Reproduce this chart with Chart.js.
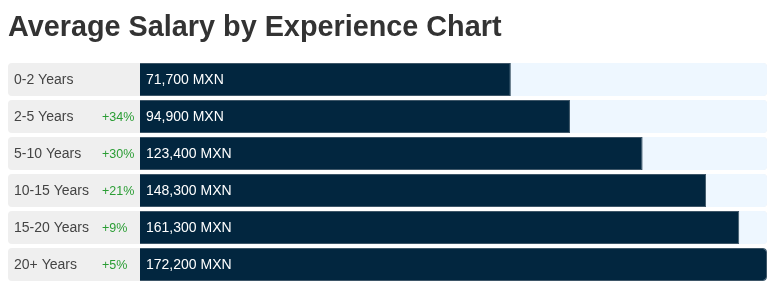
<!DOCTYPE html>
<html><head><meta charset="utf-8">
<script src="https://cdn.jsdelivr.net/npm/chart.js@4.4.1/dist/chart.umd.min.js"></script>
<style>
html,body{margin:0;padding:0;background:#fff;width:768px;height:288px;overflow:hidden}
#wrap{position:absolute;left:0;top:0;width:768px;height:288px}
#title{position:absolute;left:8px;top:12px;margin:0;font:bold 28.8px "Liberation Sans",Arial,sans-serif;line-height:1;color:#333;white-space:nowrap}
</style></head><body>
<div id="wrap"><canvas id="c" width="768" height="288"></canvas></div>
<h1 id="title">Average Salary by Experience Chart</h1>
<script>
const categories = ["0-2 Years", "2-5 Years", "5-10 Years", "10-15 Years", "15-20 Years", "20+ Years"];
const salaries = [71700, 94900, 123400, 148300, 161300, 172200];
const growth = ["", "+34%", "+30%", "+21%", "+9%", "+5%"];
const currency = "MXN";

const maxSalary = Math.max(...salaries);
const axisMin = -maxSalary * 3 / 7;
const trackValues = categories.map(() => maxSalary);
const FONT = '"Liberation Sans", Arial, sans-serif';

const rowPlugin = {
  id: 'rows',
  beforeDraw(chart) {
    const ctx = chart.ctx, area = chart.chartArea;
    const meta = chart.getDatasetMeta(0);
    ctx.save();
    ctx.fillStyle = '#efefef';
    meta.data.forEach(bar => {
      const h = bar.height, y = bar.y - h / 2;
      ctx.beginPath();
      ctx.roundRect(8, y, area.right - 8, h, 4);
      ctx.fill();
    });
    ctx.restore();
  },
  afterDatasetsDraw(chart) {
    const ctx = chart.ctx, area = chart.chartArea;
    const meta = chart.getDatasetMeta(0);
    ctx.save();
    ctx.textBaseline = 'middle';
    ctx.textAlign = 'left';
    meta.data.forEach((bar, i) => {
      ctx.fillStyle = '#ffffff';
      ctx.font = '14px ' + FONT;
      ctx.fillText(salaries[i].toLocaleString('en-US') + ' ' + currency, area.left + 6, bar.y + 1);
      if (growth[i]) {
        ctx.fillStyle = '#2a9d34';
        ctx.font = '12.5px ' + FONT;
        ctx.fillText(growth[i], 102, bar.y + 1);
      }
    });
    ctx.restore();
  }
};

new Chart(document.getElementById('c'), {
  type: 'bar',
  data: {
    labels: categories,
    datasets: [
      {
        data: salaries,
        base: axisMin,
        backgroundColor: '#02263f',
        borderColor: '#3e5668',
        borderWidth: 1,
        borderSkipped: 'start',
        borderRadius: c => c.raw === maxSalary ? 4 : 0,
        grouped: false,
        barPercentage: 33 / 37,
        categoryPercentage: 1
      },
      {
        data: trackValues,
        base: axisMin,
        backgroundColor: '#eef7ff',
        borderWidth: 0,
        borderRadius: 4,
        borderSkipped: 'start',
        grouped: false,
        barPercentage: 33 / 37,
        categoryPercentage: 1
      }
    ]
  },
  plugins: [rowPlugin],
  options: {
    indexAxis: 'y',
    responsive: false,
    animation: false,
    layout: { padding: { left: 14, right: 1, top: 61, bottom: 5 } },
    plugins: { legend: { display: false }, tooltip: { enabled: false }, title: { display: false } },
    scales: {
      x: { display: false, min: axisMin, max: maxSalary },
      y: {
        grid: { display: false },
        border: { display: false },
        ticks: { color: '#444', font: { size: 14, family: FONT }, crossAlign: 'far', padding: 0, labelOffset: 1 },
        afterFit(scale) { scale.width = 126; scale.paddingTop = 0; scale.paddingBottom = 0; }
      }
    }
  }
});
</script>
</body></html>
